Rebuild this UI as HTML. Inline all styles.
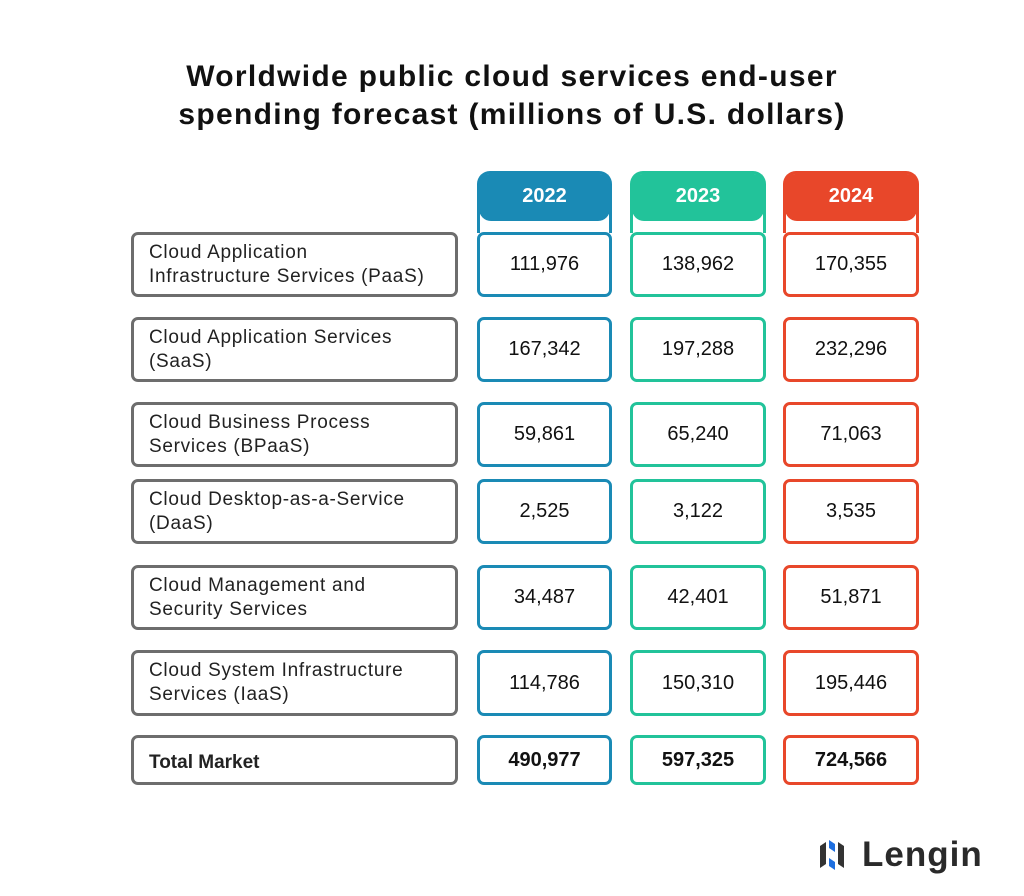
<!DOCTYPE html>
<html><head><style>
body{margin:0;width:1024px;height:896px;background:#fff;font-family:"Liberation Sans",sans-serif;position:relative;overflow:hidden}
.t{position:absolute;left:0;width:1024px;top:58px;text-align:center;font-weight:bold;font-size:30px;letter-spacing:1.3px;line-height:38px;color:#111}
.b{position:absolute;box-sizing:border-box;border:3px solid;border-radius:7px;background:#fff}
.l{border-color:#6d6d6d;left:131px;width:327px;padding:6px 0 0 15px;font-size:19px;letter-spacing:0.7px;line-height:24px;color:#222}
.c{display:flex;align-items:center;justify-content:center;font-size:20px;color:#111}
.h{position:absolute;top:171px;height:62px;box-sizing:border-box;border:3px solid;border-bottom:none;border-radius:13px 13px 0 0;background:#fff}
.h div{height:47px;margin:0 -1px;border-radius:10px 10px 12px 12px;color:#fff;font-weight:bold;font-size:20px;text-align:center;line-height:44px}
</style></head><body>
<div class="t">Worldwide public cloud services end-user<br>spending forecast (millions of U.S. dollars)</div>
<div class="h" style="left:477px;width:135px;border-color:#1a8ab5"><div style="background:#1a8ab5">2022</div></div>
<div class="h" style="left:630px;width:136px;border-color:#22c39a"><div style="background:#22c39a">2023</div></div>
<div class="h" style="left:783px;width:136px;border-color:#e8472a"><div style="background:#e8472a">2024</div></div>
<div id="g"></div>
<script>
var rows=[[232,65,"Cloud Application<br>Infrastructure Services (PaaS)","111,976","138,962","170,355"],
[317,65,"Cloud Application Services<br>(SaaS)","167,342","197,288","232,296"],
[402,65,"Cloud Business Process<br>Services (BPaaS)","59,861","65,240","71,063"],
[479,65,"Cloud Desktop-as-a-Service<br>(DaaS)","2,525","3,122","3,535"],
[565,65,"Cloud Management and<br>Security Services","34,487","42,401","51,871"],
[650,66,"Cloud System Infrastructure<br>Services (IaaS)","114,786","150,310","195,446"],
[735,50,"<b style='display:block;padding-top:7px;letter-spacing:0'>Total Market</b>","490,977","597,325","724,566"]];
var cols=[[477,135,"#1a8ab5"],[630,136,"#22c39a"],[783,136,"#e8472a"]],h="";
rows.forEach(function(r,i){h+='<div class="b l" style="top:'+r[0]+'px;height:'+r[1]+'px">'+r[2]+'</div>';
cols.forEach(function(c,j){h+='<div class="b c" style="top:'+r[0]+'px;height:'+r[1]+'px;left:'+c[0]+'px;width:'+c[1]+'px;border-color:'+c[2]+(i==6?';font-weight:bold':'')+'">'+r[3+j]+'</div>';});});
document.getElementById('g').innerHTML=h;
</script>
<svg style="position:absolute;left:818px;top:838px" width="40" height="34">
<path d="M2 8 L8 4 L8 26 L2 30Z" fill="#333"/><path d="M11 2 L17 6 L17 14 L11 10Z" fill="#1e6fe0"/><path d="M11 20 L17 24 L17 32 L11 28Z" fill="#1e6fe0"/><path d="M20 4 L26 8 L26 30 L20 26Z" fill="#333"/>
</svg>
<div style="position:absolute;left:862px;top:835px;font-size:35px;letter-spacing:1px;font-weight:bold;color:#2a2a2a;line-height:40px">Lengin</div>
</body></html>
